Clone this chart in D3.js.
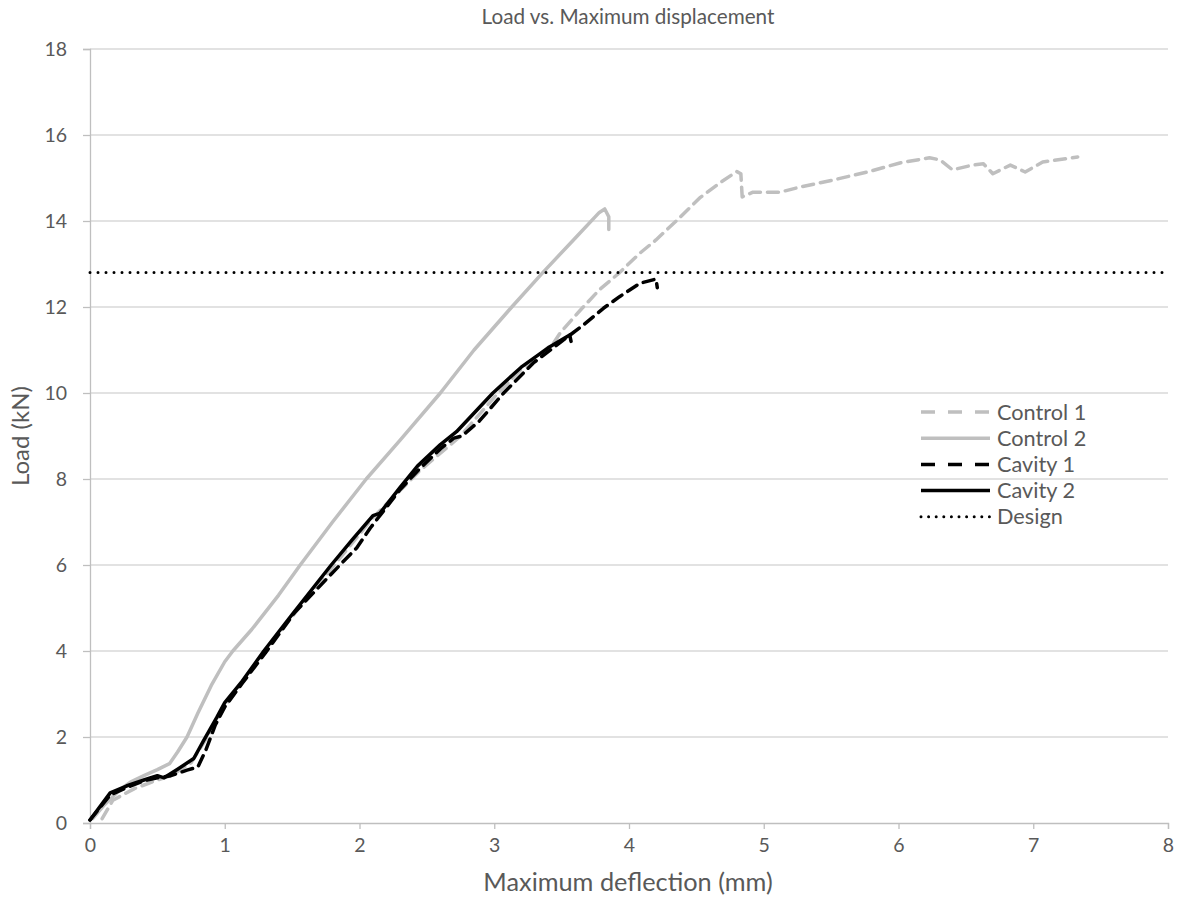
<!DOCTYPE html>
<html>
<head>
<meta charset="utf-8">
<script src="https://cdn.jsdelivr.net/npm/d3@7"></script>
<style>
  body { margin: 0; background: #fff; }
  svg { font-family: Lato, "Open Sans", sans-serif; }
</style>
</head>
<body>
<svg width="1179" height="907"></svg>
<script>
// values: [deflection mm, load kN]
const control1 = [[0.09,0.1],[0.17,0.53],[0.33,0.8],[0.5,1.0],[0.6,1.1],[0.75,1.4],[0.85,1.9],[1.0,2.7],
  [1.3,4.0],[1.55,5.0],[1.8,5.95],[2.1,7.1],[2.45,8.2],[2.75,9.0],[3.0,9.9],[3.2,10.55],[3.44,11.16],
  [3.49,11.4],[3.64,11.93],[3.78,12.4],[3.93,12.8],[4.08,13.25],[4.2,13.56],[4.35,14.0],[4.53,14.55],
  [4.68,14.9],[4.8,15.15],[4.83,15.1],[4.84,14.56],[4.92,14.67],[5.12,14.67],[5.27,14.79],[5.51,14.95],
  [5.77,15.14],[6.01,15.35],[6.23,15.47],[6.31,15.42],[6.4,15.19],[6.55,15.3],[6.63,15.33],[6.7,15.1],
  [6.83,15.3],[6.94,15.14],[7.07,15.37],[7.33,15.49]];
const control2 = [[0.02,0.1],[0.1,0.4],[0.22,0.77],[0.3,0.95],[0.4,1.1],[0.5,1.24],[0.59,1.38],[0.65,1.65],
  [0.72,2.0],[0.8,2.55],[0.9,3.2],[1.0,3.75],[1.06,4.0],[1.2,4.5],[1.4,5.3],[1.56,6.0],[1.8,7.0],
  [2.05,8.0],[2.3,8.9],[2.6,10.0],[2.85,11.0],[3.13,12.0],[3.36,12.8],[3.6,13.6],[3.78,14.2],
  [3.82,14.28],[3.85,14.1],[3.85,13.8]];
const cavity1 = [[0.0,0.07],[0.15,0.65],[0.27,0.82],[0.4,0.98],[0.5,1.05],[0.6,1.1],[0.72,1.23],[0.8,1.3],
  [0.86,1.7],[0.93,2.28],[1.0,2.7],[1.13,3.25],[1.3,3.95],[1.52,4.9],[1.87,6.05],[1.98,6.4],[2.08,6.86],
  [2.3,7.75],[2.45,8.25],[2.6,8.7],[2.7,8.95],[2.76,9.0],[2.89,9.35],[3.07,10.0],[3.29,10.7],[3.5,11.2],
  [3.66,11.58],[3.81,11.97],[3.93,12.24],[4.08,12.55],[4.2,12.65],[4.21,12.45]];
const cavity2 = [[0.0,0.07],[0.15,0.7],[0.27,0.86],[0.4,1.0],[0.5,1.1],[0.55,1.05],[0.65,1.25],[0.77,1.5],
  [0.84,1.9],[0.94,2.45],[1.0,2.8],[1.13,3.3],[1.29,4.0],[1.5,4.85],[1.79,6.0],[1.95,6.6],[2.1,7.15],
  [2.15,7.2],[2.3,7.8],[2.43,8.3],[2.6,8.8],[2.72,9.1],[2.99,10.0],[3.2,10.6],[3.4,11.05],[3.56,11.35],
  [3.57,11.2]];
const designLoad = 12.8;
const seriesNames = ["Control 1", "Control 2", "Cavity 1", "Cavity 2", "Design"];
const xTicks = [0, 1, 2, 3, 4, 5, 6, 7, 8];
const yTicks = [0, 2, 4, 6, 8, 10, 12, 14, 16, 18];

const svg = d3.select("svg");
const plotLeft = 90, plotRight = 1168, plotTop = 49, plotBottom = 823;
const textColor = "#595959";

const x = d3.scaleLinear().domain([0, 8]).range([plotLeft, plotRight]);
const y = d3.scaleLinear().domain([0, 18]).range([plotBottom, plotTop]);

// gridlines
svg.append("g").selectAll("line").data(yTicks.slice(1)).enter().append("line")
  .attr("x1", plotLeft).attr("x2", plotRight)
  .attr("y1", d => y(d)).attr("y2", d => y(d))
  .attr("stroke", "#d9d9d9").attr("stroke-width", 1.3);

// axes
const xAxis = svg.append("g").attr("transform", `translate(0,${plotBottom})`)
  .call(d3.axisBottom(x).tickValues(xTicks).tickSize(6).tickPadding(9).tickFormat(d3.format("d")));
const yAxis = svg.append("g").attr("transform", `translate(${plotLeft},0)`)
  .call(d3.axisLeft(y).tickValues(yTicks).tickSize(7).tickPadding(16).tickFormat(d3.format("d")));
[xAxis, yAxis].forEach(a => {
  a.attr("font-size", null).attr("font-family", null);
  a.select(".domain").attr("stroke", "#bfbfbf").attr("stroke-width", 1.3);
  a.selectAll(".tick line").attr("stroke", "#bfbfbf").attr("stroke-width", 1.3);
  a.selectAll("text").attr("fill", textColor).style("font-size", "19.5px");
});

// series
const line = d3.line().x(d => x(d[0])).y(d => y(d[1]));
const styles = [
  { data: control1, color: "#bfbfbf", dash: "11,7" },
  { data: control2, color: "#bfbfbf", dash: null },
  { data: cavity1, color: "#000000", dash: "11,7" },
  { data: cavity2, color: "#000000", dash: null }
];
styles.forEach(s => {
  svg.append("path").datum(s.data)
    .attr("d", line)
    .attr("fill", "none")
    .attr("stroke", s.color)
    .attr("stroke-width", 3.5)
    .attr("stroke-linejoin", "round")
    .attr("stroke-linecap", "round")
    .attr("stroke-dasharray", s.dash);
});

svg.append("line")
  .attr("x1", x(0)).attr("x2", x(8))
  .attr("y1", y(designLoad)).attr("y2", y(designLoad))
  .attr("stroke", "#000").attr("stroke-width", 3)
  .attr("stroke-linecap", "round").attr("stroke-dasharray", "0,8");

// legend
const legendStyles = [
  { color: "#bfbfbf", dash: "14,13", w: 3.5, cap: "butt" },
  { color: "#bfbfbf", dash: null, w: 3.5, cap: "butt" },
  { color: "#000", dash: "14,13", w: 3.5, cap: "butt" },
  { color: "#000", dash: null, w: 3.5, cap: "butt" },
  { color: "#000", dash: "0,7.6", w: 3, cap: "round" }
];
const legend = svg.append("g");
seriesNames.forEach((name, i) => {
  const ly = 412 + i * 26.2;
  legend.append("line")
    .attr("x1", 921).attr("x2", 990).attr("y1", ly).attr("y2", ly)
    .attr("stroke", legendStyles[i].color).attr("stroke-width", legendStyles[i].w)
    .attr("stroke-linecap", legendStyles[i].cap)
    .attr("stroke-dasharray", legendStyles[i].dash);
  legend.append("text")
    .attr("x", 997).attr("y", ly + 7.5)
    .attr("fill", textColor).style("font-size", "21.7px")
    .text(name);
});

// titles
svg.append("text").attr("x", 628).attr("y", 24)
  .attr("text-anchor", "middle").attr("fill", textColor).style("font-size", "20.7px")
  .text("Load vs. Maximum displacement");
svg.append("text").attr("x", 628).attr("y", 891)
  .attr("text-anchor", "middle").attr("fill", textColor).style("font-size", "25.3px")
  .text("Maximum deflection (mm)");
svg.append("text")
  .attr("transform", "translate(29,436) rotate(-90)")
  .attr("text-anchor", "middle").attr("fill", textColor).style("font-size", "24px")
  .text("Load (kN)");
</script>
</body>
</html>
